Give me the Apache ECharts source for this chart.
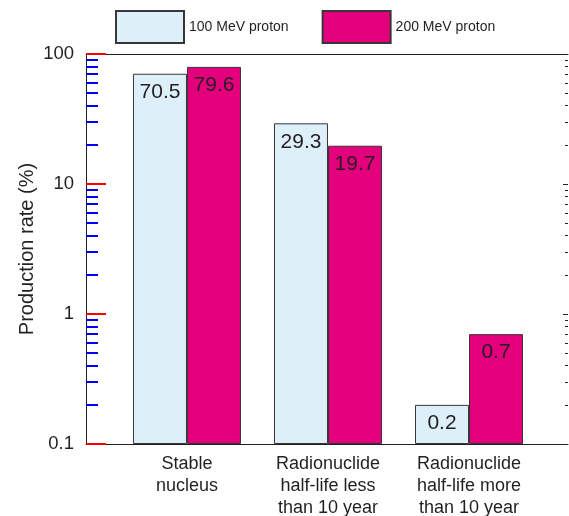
<!DOCTYPE html>
<html><head><meta charset="utf-8">
<script src="https://cdn.jsdelivr.net/npm/echarts@6/dist/echarts.min.js"></script>
<style>html,body{margin:0;padding:0;background:#fff}#c{width:569px;height:516px}</style>
</head><body><div id="c"></div>
<script>
const categories = ['Stable\nnucleus', 'Radionuclide\nhalf-life less\nthan 10 year', 'Radionuclide\nhalf-life more\nthan 10 year'];
const seriesNames = ['100 MeV proton', '200 MeV proton'];
const values100 = [70.5, 29.3, 0.2];
const values200 = [79.6, 19.7, 0.7];
const yTicks = [0.1, 1, 10, 100];

const FONT = 'Liberation Sans';
const yMin = yTicks[0], yMax = yTicks[yTicks.length - 1];
const decades = Math.log10(yMax / yMin);
const toLog = v => Math.log10(v / yMin);
const X0 = 0.716, XMAX = 3.418;
const chart = echarts.init(document.getElementById('c'), null, {renderer: 'canvas'});
const catPos = categories.map((_, i) => i + X0);
const mkLabel = (vals) => ({show: true, position: 'insideTop', distance: 8, color: '#231f20', fontSize: 21, fontFamily: FONT,
  formatter: p => String(vals[p.dataIndex])});
const tickStyle = {color: '#231f20', width: 1};
chart.setOption({
  animation: false,
  textStyle: {fontFamily: FONT},
  legend: {
    left: 110, top: 5, itemWidth: 68, itemHeight: 32, itemGap: 33,
    icon: 'rect',
    textStyle: {fontSize: 14, color: '#231f20', fontFamily: FONT},
    data: seriesNames
  },
  grid: {left: 86, right: 1, top: 54, bottom: 72, containLabel: false, outerBoundsMode: 'none'},
  xAxis: [{
    type: 'value', min: 0, max: XMAX,
    splitLine: {show: false},
    axisLine: {show: true, onZero: false, lineStyle: {color: '#231f20', width: 1}},
    axisTick: {show: false},
    axisLabel: {customValues: catPos, formatter: v => categories[Math.round(v - X0)] || '',
      fontSize: 18, color: '#231f20', lineHeight: 22, margin: 9, fontFamily: FONT}
  }, {
    type: 'value', position: 'top', min: 0, max: XMAX,
    splitLine: {show: false},
    axisLine: {show: true, onZero: false, lineStyle: {color: '#231f20', width: 1}},
    axisTick: {show: false}, axisLabel: {show: false}
  }],
  yAxis: [{
    type: 'log', logBase: 10, min: yMin, max: yMax, position: 'left',
    name: 'Production rate (%)', nameLocation: 'middle', nameGap: 49, nameMoveOverlap: false,
    nameTextStyle: {fontSize: 20, color: '#231f20', fontFamily: FONT},
    splitLine: {show: false},
    axisLine: {show: true, onZero: false, lineStyle: {color: '#231f20'}},
    axisTick: {show: true, inside: true, length: 20, lineStyle: {color: '#ff0000', width: 2}},
    minorTick: {show: true, splitNumber: 9, length: 12, lineStyle: {color: '#0000ff', width: 2}},
    axisLabel: {fontSize: 18.5, color: '#231f20', margin: 12, fontFamily: FONT,
      formatter: v => String(+(+v).toPrecision(3))}
  }, {
    type: 'log', logBase: 10, min: yMin, max: yMax, position: 'right',
    splitLine: {show: false},
    axisLine: {show: false, onZero: false},
    axisTick: {show: true, inside: true, length: 5, lineStyle: tickStyle},
    minorTick: {show: true, splitNumber: 9, length: 3, lineStyle: tickStyle},
    axisLabel: {show: false}
  }, {
    type: 'value', min: 0, max: decades, show: false, position: 'right',
    axisLine: {onZero: false},
    splitLine: {show: false}
  }],
  series: [{
    name: seriesNames[0], type: 'bar', barWidth: 54, barGap: 0, yAxisIndex: 2,
    data: values100.map((v, i) => [catPos[i], toLog(v)]),
    itemStyle: {color: '#ddf0fa', borderColor: '#3a3536', borderWidth: 1},
    label: mkLabel(values100)
  }, {
    name: seriesNames[1], type: 'bar', barWidth: 54, barGap: 0, yAxisIndex: 2,
    data: values200.map((v, i) => [catPos[i], toLog(v)]),
    itemStyle: {color: '#e4007c', borderColor: '#3a3536', borderWidth: 1},
    label: mkLabel(values200)
  }]
});
</script></body></html>
